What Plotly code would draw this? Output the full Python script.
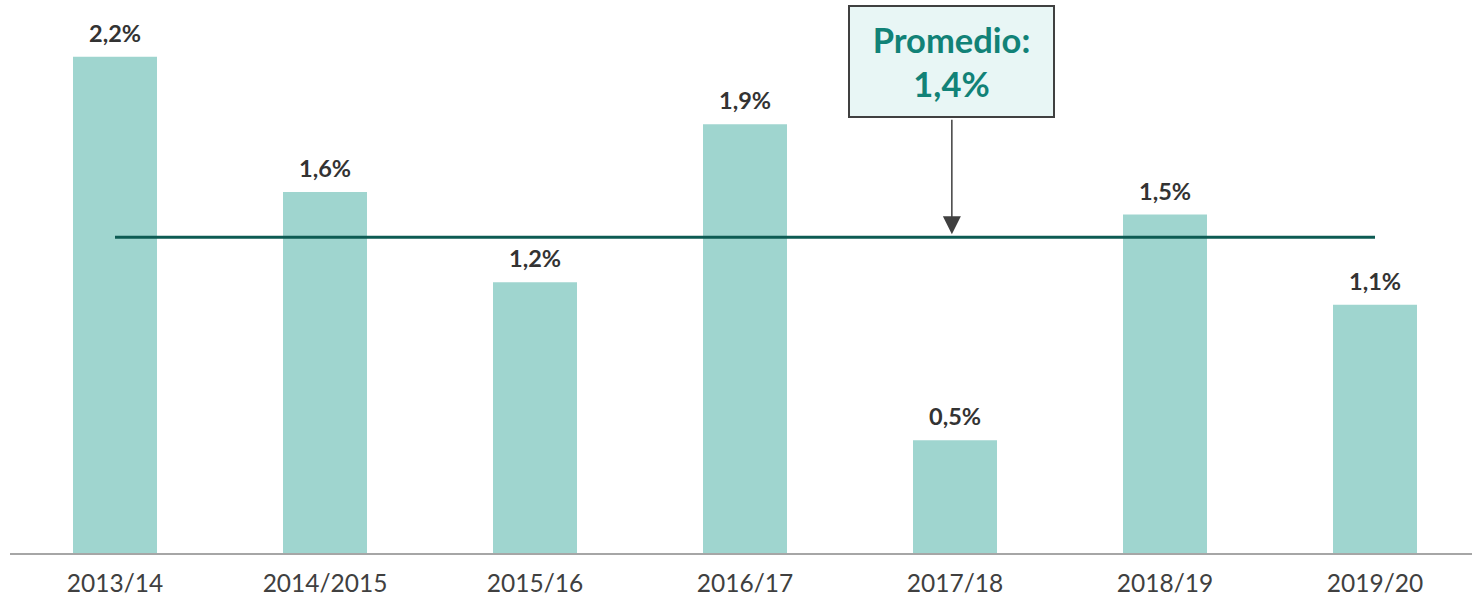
import plotly.graph_objects as go

# Annual growth by season (percent)
seasons = ["2013/14", "2014/2015", "2015/16", "2016/17", "2017/18", "2018/19", "2019/20"]
growth = [2.2, 1.6, 1.2, 1.9, 0.5, 1.5, 1.1]
labels = ["2,2%", "1,6%", "1,2%", "1,9%", "0,5%", "1,5%", "1,1%"]
average = 1.4
average_label = "Promedio:<br>1,4%"

BAR = "#9fd5cf"
LINE = "#0d5b53"
TEXT = "#333333"
TEAL_TEXT = "#118277"

fig = go.Figure()

fig.add_trace(go.Bar(
    x=list(range(len(seasons))),
    y=growth,
    marker=dict(color=BAR, line=dict(width=0)),
    width=0.4,
    hoverinfo="skip",
))

# average line spanning first to last category centre
fig.add_trace(go.Scatter(
    x=[0, len(seasons) - 1],
    y=[average, average],
    mode="lines",
    line=dict(color=LINE, width=3),
    hoverinfo="skip",
))

annotations = []
for i, (v, t) in enumerate(zip(growth, labels)):
    annotations.append(dict(
        x=i, y=v, text=t, showarrow=False, yanchor="bottom", yshift=8,
        font=dict(family="Lato", size=23.5, color=TEXT, weight="bold"),
    ))

# callout box with arrow pointing down to the average line
box_x = 3.985
annotations.append(dict(
    x=box_x, y=average, xref="x", yref="y",
    text="", showarrow=True, arrowhead=2, arrowsize=2.4, arrowwidth=1.5,
    arrowcolor="#404040", ax=0, ay=-119, standoff=3,
))
annotations.append(dict(
    x=box_x, y=1, xref="x", yref="paper", yanchor="top", yshift=-5,
    text=f"<b>{average_label}</b>", showarrow=False,
    font=dict(family="Lato", size=34.5, color=TEAL_TEXT),
    bgcolor="#e8f6f5", bordercolor="#404040", borderwidth=2,
    width=201, height=107, align="center", valign="middle",
))

fig.update_layout(
    width=1472, height=603,
    margin=dict(l=10, r=0, t=0, b=50),
    paper_bgcolor="white", plot_bgcolor="white",
    showlegend=False,
    annotations=annotations,
    xaxis=dict(
        range=[-0.5, -0.5 + 1462 / 210],
        tickmode="array", tickvals=list(range(len(seasons))), ticktext=seasons,
        tickfont=dict(family="Lato", size=24.5, color="#404040"),
        showgrid=False, zeroline=False,
        showline=True, linecolor="#a6a6a6", linewidth=1.5,
        ticks="", ticklen=0, ticklabelstandoff=8,
    ),
    yaxis=dict(
        range=[0, 553 / 225.6],
        visible=False, showgrid=False, zeroline=False,
    ),
)

fig.write_html("out.html")
